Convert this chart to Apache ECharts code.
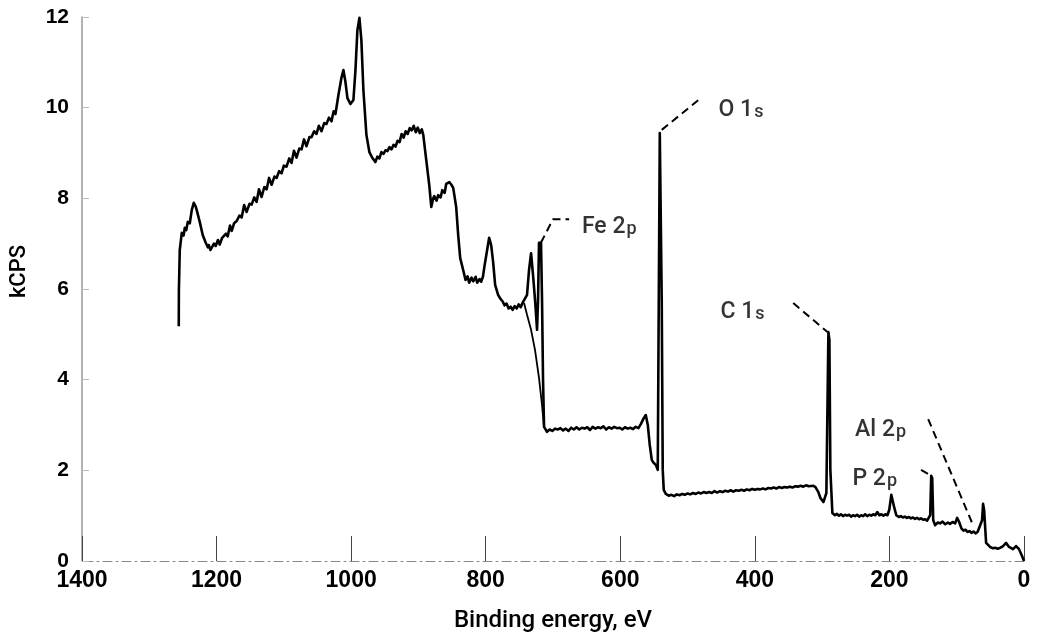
<!DOCTYPE html>
<html>
<head>
<meta charset="utf-8">
<script src="https://cdn.jsdelivr.net/npm/echarts@6/dist/echarts.min.js"></script>
<style>
html,body{margin:0;padding:0;background:#fff;}
#chart{width:1038px;height:641px;}
</style>
</head>
<body>
<div id="chart"></div>
<script>
// Survey spectrum: binding energy (eV) / intensity (kCPS) in segments
var segA_E = [1256.2,1256,1254.7,1251.7,1249,1247.2,1245,1242.8,1239.8,1236.9,1233.9,1231,1229.5,1225,1220.6,1216.1,1213,1211.7,1209,1207.2];
var segA_V = [5.18,5.98,6.86,7.24,7.18,7.35,7.3,7.48,7.45,7.74,7.9,7.82,7.74,7.48,7.19,7.02,6.92,6.97,6.86,6.9];
var segB_E = [1204,1201.3,1198,1195.3,1192,1189.4,1186,1183.5,1180,1177.5,1174,1170.1,1166,1162.7,1159,1155.3,1151,1147.9,1144,1140.5,1137,1133.1,1129,1125.6,1122,1118.2,1114,1110.8,1107,1103.4,1100,1096,1092,1088.6,1085,1081.2,1077,1073.7,1070,1066.3,1062,1058.9,1055,1051.5,1048,1044.1,1040,1036.7,1033,1029.2,1026,1023.3];
var segB_V = [7.0,6.95,7.08,6.98,7.12,7.1,7.22,7.16,7.4,7.28,7.45,7.5,7.62,7.58,7.85,7.7,7.88,7.86,8.02,7.92,8.2,8.03,8.25,8.2,8.45,8.3,8.48,8.45,8.6,8.55,8.72,8.7,8.88,8.78,9.05,8.9,9.1,9.08,9.3,9.15,9.35,9.35,9.48,9.42,9.6,9.48,9.66,9.64,9.78,9.7,9.92,9.86];
var segC_E = [1018.9,1014.4,1011.5,1008.5,1005.5,1001.1,996.6,993.6,990.7,987.7,984.8,981.8,977.3,972.9,968.4];
var segC_V = [10.28,10.66,10.83,10.57,10.21,10.08,10.17,10.83,11.71,11.98,11.49,10.39,9.4,9.02,8.89];
var segD_E = [964,961,958,955,952,949,946,943,940,937,934,931,928,925,922,919,916,913,910,907,904,901,898,895,892.8];
var segD_V = [8.8,8.92,8.88,9.02,8.98,9.06,9.04,9.13,9.08,9.18,9.14,9.27,9.24,9.42,9.34,9.48,9.42,9.55,9.5,9.6,9.46,9.56,9.44,9.52,9.4];
var segE_E = [888.4,883.9,880.9,878,876.5,873,870.6,867,864.6,861,858.7,854.2,851,848.3,843.9,840.9,837.9];
var segE_V = [8.85,8.29,7.81,8.0,8.05,7.95,8.07,8.02,8.18,8.12,8.32,8.36,8.3,8.23,7.81,7.19,6.68];
var segF_E = [833.5,830,827,824.6,821,818.6,815,812.7,809,806.8,804,802.3,797.9,794.9,791.9,789,786];
var segF_V = [6.42,6.2,6.28,6.14,6.25,6.17,6.27,6.14,6.22,6.16,6.28,6.46,6.86,7.13,6.97,6.6,6.09];
var segG_E = [781.6,778,775,772,769,766,763,760,757,754,751,748,745,743];
var segG_V = [5.87,5.78,5.73,5.64,5.68,5.57,5.61,5.54,5.62,5.57,5.66,5.6,5.7,5.69];
var segH_E = [738.6,735.6,732.6,729.7,726.7,723.7,722.2,720.8,717.8,716.3,714.8,713.3];
var segH_V = [5.87,6.42,6.79,6.31,5.76,5.1,5.76,7.02,7.02,5.76,3.99,2.96];
var segI_E = [708.9,705,701,697,693,689,685,681,677,673,669,665,661,657,653,649,645,641,637,633,629,625,621,617,613,609,605,601,597,593,589,585,581,577,573,569.5,565.1,562.1,559.1,556.2,553.2,550.2,547.2,544.3,541.3,539.8,538.4,536.9,535.4];
var segI_V = [2.85,2.9,2.87,2.92,2.9,2.93,2.88,2.92,2.87,2.94,2.9,2.95,2.9,2.94,2.92,2.95,2.89,2.96,2.92,2.95,2.93,2.97,2.9,2.95,2.92,2.96,2.93,2.94,2.9,2.95,2.92,2.94,2.91,2.96,2.93,3.02,3.15,3.22,3.0,2.56,2.23,2.16,2.12,2.01,9.44,9.44,5.76,2.01,1.57];
var segJ_E = [532.4,528,524,520,516,512,508,504,500,496,492,488,484,480,476,472,468,464,460,456,452,448,444,440,436,432,428,424,420,416,412,408,404,400,396,392,388,384,380,376,372,368,364,360,356,352,348,344,340,336,332,328,324,320,317.4,313,310,305.6,302.6,298.1,293.7,290.7,289.2,287.8];
var segJ_V = [1.48,1.44,1.46,1.43,1.47,1.45,1.48,1.46,1.49,1.47,1.5,1.48,1.51,1.49,1.52,1.5,1.52,1.5,1.54,1.51,1.54,1.52,1.55,1.53,1.56,1.53,1.56,1.55,1.57,1.55,1.58,1.56,1.59,1.57,1.59,1.58,1.6,1.58,1.61,1.6,1.62,1.6,1.63,1.61,1.63,1.62,1.64,1.62,1.65,1.64,1.66,1.64,1.67,1.65,1.68,1.66,1.63,1.52,1.39,1.3,1.5,5.05,4.88,2.01];
var segK_E = [284.8,281,278,275,272,269,266,263,260,257,254,251,248,245,242,239,236,233,230,227,224,221,218,215,212,209,206,203,200.2,197.2,195.7,192.7];
var segK_V = [1.06,1.01,1.04,1.0,1.03,0.99,1.02,1.0,1.02,0.98,1.01,0.99,1.02,0.98,1.01,0.99,1.03,0.99,1.02,1.0,1.03,1.01,1.08,1.01,1.03,1.0,1.03,1.01,1.13,1.46,1.48,1.17];
var segL_E = [189.8,186,183,180,177,174,171,168,165,162,159,156,153,150,147,144,142.3,139.4,137.9,136.4,134.9];
var segL_V = [1.01,0.97,0.99,0.96,0.98,0.95,0.97,0.94,0.96,0.93,0.95,0.92,0.94,0.91,0.92,0.89,0.9,1.01,1.88,1.83,0.9];
var segM_E = [132,128,124.6,121,117,113,110,106,102.3,99.4,96.4,93,90,87,84,81,78,75,72,69,66.7,62.3,60.8,59.3,56.3,50.4,46,43,39,35.6,31.1,26.7,22.2,16.3,11.8,7.4,2.9,0];
var segM_V = [0.79,0.85,0.83,0.87,0.81,0.85,0.82,0.86,0.83,0.95,0.86,0.72,0.67,0.69,0.64,0.66,0.62,0.65,0.61,0.64,0.68,0.9,1.26,1.13,0.4,0.31,0.28,0.29,0.27,0.29,0.33,0.4,0.31,0.26,0.33,0.26,0.11,0];

// second (overlaid) trace where it departs from the main one
var energy2 = [743,738.6,732.6,726.7,720.8,716.3,713.3];
var kcps2 = [5.69,5.43,5.1,4.65,4.04,3.44,2.96];

// axis ticks
var xTicks = [1400,1200,1000,800,600,400,200,0];
var yTicks = [0,2,4,6,8,10,12];

// peak labels
var labelMain = ['O 1','Fe 2','C 1','Al 2','P 2'];
var labelSub = ['s','p','s','p','p'];
var labelE = [454,657,451,251,255];
var labelV = [10.1,7.52,5.65,3.04,1.96];

// dashed leader lines (energy, kCPS)
var leaderOE = [538.4,480.5], leaderOV = [9.51,10.21];
var leaderFeE = [718,700,676], leaderFeV = [7.02,7.54,7.54];
var leaderCE = [343,292], leaderCV = [5.69,5.05];
var leaderAlE = [142.4,77.1], leaderAlV = [3.13,0.84];
var leaderPE = [153,138], leaderPV = [2.01,1.88];

var energy = [].concat(segA_E,segB_E,segC_E,segD_E,segE_E,segF_E,segG_E,segH_E,segI_E,segJ_E,segK_E,segL_E,segM_E);
var kcps = [].concat(segA_V,segB_V,segC_V,segD_V,segE_V,segF_V,segG_V,segH_V,segI_V,segJ_V,segK_V,segL_V,segM_V);

function pairs(xs, ys){ return xs.map(function(x,i){ return [x, ys[i]]; }); }

var FONT = "'Liberation Sans', Arial, sans-serif";
var FONT2 = "Roboto, 'Liberation Sans', Arial, sans-serif";
var chart = echarts.init(document.getElementById('chart'), null, {renderer:'canvas'});

var leaderSeries = [
  [leaderOE, leaderOV],[leaderFeE, leaderFeV],[leaderCE, leaderCV],[leaderAlE, leaderAlV],[leaderPE, leaderPV]
].map(function(l){
  return {
    type:'line', data:pairs(l[0], l[1]), showSymbol:false, symbol:'none', silent:true,
    lineStyle:{color:'#000', width:2, type:[8,5]}, z:3
  };
});

var option = {
  animation:false,
  backgroundColor:'#fff',
  grid:{left:80, right:14, top:17, bottom:80, containLabel:false},
  xAxis:{
    type:'value', inverse:true, min:0, max:1400, interval:200,
    name:'Binding energy, eV', nameLocation:'middle', nameGap:48,
    nameTextStyle:{fontFamily:FONT2, fontSize:24, fontWeight:500, color:'#000'},
    axisLine:{show:true, onZero:false, lineStyle:{color:'#888', width:1, type:[9,4,2,4]}},
    axisTick:{show:true, inside:true, length:25, lineStyle:{color:'#444', width:1}},
    axisLabel:{fontFamily:FONT, fontSize:23, fontWeight:'bold', color:'#000', margin:8,
      formatter:function(v){ return xTicks.indexOf(v) >= 0 ? String(v) : ''; }},
    splitLine:{show:false}
  },
  yAxis:{
    type:'value', min:0, max:12, interval:2, position:'left',
    name:'kCPS', nameLocation:'middle', nameGap:52,
    nameTextStyle:{fontFamily:FONT2, fontSize:22, fontWeight:500, color:'#000', padding:[0,0,0,35]},
    axisLine:{show:true, onZero:false, lineStyle:{color:'#999', width:1.5}},
    axisTick:{show:true, inside:true, length:7, lineStyle:{color:'#bbb', width:1}},
    axisLabel:{fontFamily:FONT, fontSize:21, fontWeight:'bold', color:'#000', margin:13,
      formatter:function(v){ return yTicks.indexOf(v) >= 0 ? String(v) : ''; }},
    splitLine:{show:false}
  },
  series:[
    {type:'line', data:pairs(energy, kcps), showSymbol:false, symbol:'none',
      lineStyle:{color:'#000', width:2.6, join:'round'}, z:4},
    {type:'line', data:pairs(energy2, kcps2), showSymbol:false, symbol:'none',
      lineStyle:{color:'#000', width:1.8}, z:4},
    {type:'scatter', symbolSize:0, silent:true, z:5,
      data:labelE.map(function(e,i){ return [e, labelV[i]]; }),
      label:{show:true, position:'right', distance:0, offset:[0,5], color:'#000',
        formatter:function(p){ return '{m|' + labelMain[p.dataIndex] + '}{s|' + labelSub[p.dataIndex] + '}'; },
        rich:{
          m:{fontFamily:FONT2, fontSize:23, color:'#000', fontWeight:500, verticalAlign:'bottom'},
          s:{fontFamily:FONT2, fontSize:18, color:'#000', fontWeight:500, padding:[9,0,0,1], verticalAlign:'bottom'}
        }
      }
    }
  ].concat(leaderSeries)
};
chart.setOption(option);
</script>
</body>
</html>
